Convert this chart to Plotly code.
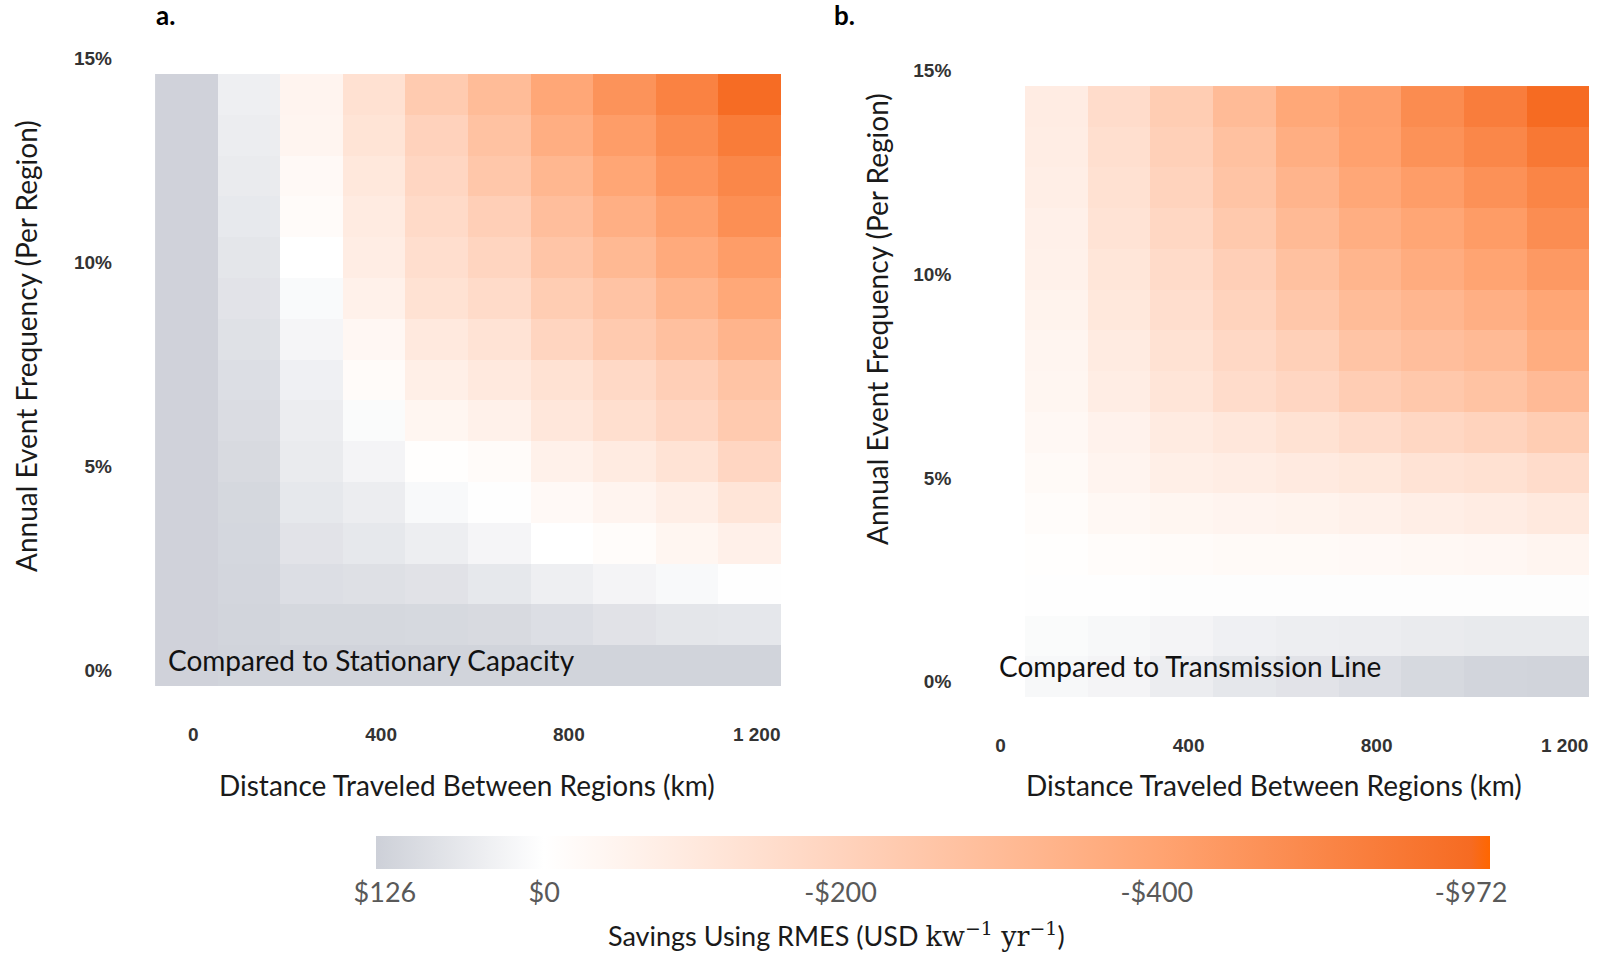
import numpy as np
import plotly.graph_objects as go

W, H = 1605, 953

distance_km = [0, 133, 267, 400, 533, 667, 800, 933, 1067, 1200]
frequency_pct = [0, 1, 2, 3, 4, 5, 6, 7, 8, 9, 10, 11, 12, 13, 14]

# Savings (USD kw^-1 yr^-1); rows = frequency 0%..14%, cols = distance
savings_stationary = [
    [126, 122, 122, 122, 122, 122, 122, 122, 122, 122],
    [126, 120, 111, 111, 108, 105, 93, 81, 72, 69],
    [126, 117, 93, 87, 81, 66, 45, 30, 18, 2],
    [126, 114, 78, 66, 48, 27, 0, -14, -41, -68],
    [126, 111, 66, 51, 18, 3, -27, -50, -77, -118],
    [126, 105, 57, 30, -5, -18, -64, -91, -127, -186],
    [126, 99, 51, 12, -41, -64, -109, -145, -186, -238],
    [126, 93, 42, -18, -73, -100, -132, -173, -217, -264],
    [126, 84, 27, -36, -100, -127, -191, -238, -281, -332],
    [126, 78, 15, -64, -132, -164, -226, -268, -328, -383],
    [126, 72, 0, -82, -150, -191, -260, -311, -374, -474],
    [126, 63, -18, -91, -168, -217, -289, -353, -437, -612],
    [126, 57, -27, -105, -186, -251, -319, -391, -557, -695],
    [126, 51, -45, -123, -204, -272, -357, -474, -640, -806],
    [126, 45, -50, -136, -234, -298, -387, -575, -741, -960],
]

savings_transmission = [
    [None, 21, 30, 51, 69, 78, 93, 108, 120, 123],
    [None, 12, 21, 30, 42, 48, 51, 57, 60, 60],
    [None, 2, 2, 6, 6, 6, 6, 6, 6, 6],
    [None, -5, -14, -18, -23, -23, -27, -32, -36, -45],
    [None, -14, -32, -41, -50, -55, -64, -77, -86, -100],
    [None, -23, -50, -73, -82, -95, -105, -127, -136, -159],
    [None, -32, -59, -91, -109, -132, -159, -182, -200, -226],
    [None, -41, -82, -118, -159, -186, -225, -247, -270, -305],
    [None, -45, -91, -132, -177, -213, -264, -289, -306, -362],
    [None, -55, -105, -150, -200, -251, -298, -323, -353, -391],
    [None, -64, -114, -164, -217, -277, -328, -366, -400, -510],
    [None, -68, -127, -182, -243, -306, -357, -391, -483, -630],
    [None, -77, -136, -200, -264, -332, -387, -474, -594, -714],
    [None, -82, -145, -213, -277, -357, -428, -584, -695, -843],
    [None, -86, -159, -226, -302, -383, -446, -640, -787, -972],
]

# Non-linear colour-bar scale (USD -> bar position)
scale_usd = [-972, -400, -200, 0, 126]
scale_pos = [0.983, 0.701, 0.417, 0.151, 0.008]
cbar_labels = ["-$972", "-$400", "-$200", "$0", "$126"]


def to_pos(rows):
    out = []
    for r in rows:
        out.append([None if v is None else float(np.interp(v, scale_usd, scale_pos)) for v in r])
    return out


FONT = "Lato, 'Open Sans', sans-serif"
TICKFONT = dict(family="'Liberation Sans', Arial, sans-serif", size=19, color="#333333",
                weight="bold")

fig = go.Figure()
fig.add_trace(go.Heatmap(x=distance_km, y=frequency_pct, z=to_pos(savings_stationary),
                         coloraxis="coloraxis", xaxis="x", yaxis="y", hoverongaps=False))
fig.add_trace(go.Heatmap(x=distance_km, y=frequency_pct, z=to_pos(savings_transmission),
                         coloraxis="coloraxis", xaxis="x2", yaxis="y2", hoverongaps=False))


def px_x(v):
    return v / W


def px_y(v):
    return 1 - v / H


xaxis_common = dict(range=[-66.67, 1266.67], tickvals=[0, 400, 800, 1200],
                    ticktext=["0", "400", "800", "1 200"], showgrid=False, zeroline=False,
                    showline=False, ticks="", tickfont=TICKFONT, ticklabelstandoff=35,
                    ticklabelshift=7)
yaxis_common = dict(range=[-0.5, 15.5], tickvals=[0, 5, 10, 15],
                    ticktext=["0%", "5%", "10%", "15%"], showgrid=False, zeroline=False,
                    showline=False, ticks="", tickfont=TICKFONT, ticklabelshift=5)

fig.update_layout(
    width=W, height=H,
    margin=dict(l=0, r=0, t=0, b=0),
    paper_bgcolor="white", plot_bgcolor="white",
    xaxis=dict(domain=[px_x(155), px_x(781)], anchor="y", **xaxis_common),
    yaxis=dict(domain=[px_y(686), px_y(33.2)], anchor="x", ticklabelstandoff=42, **yaxis_common),
    xaxis2=dict(domain=[px_x(962.3), px_x(1589)], anchor="y2", **xaxis_common),
    yaxis2=dict(domain=[px_y(697), px_y(45.3)], anchor="x2", ticklabelstandoff=10, **yaxis_common),
    coloraxis=dict(
        cmin=0, cmax=1,
        colorscale=[[0.0, "#cdd0d8"], [0.151, "#ffffff"], [0.417, "#ffd3bd"],
                    [0.701, "#ffa472"], [0.983, "#f66b22"], [1.0, "#ff6600"]],
        colorbar=dict(
            orientation="h", thickness=33, thicknessmode="pixels",
            len=1114, lenmode="pixels",
            x=933 / W, xanchor="center", y=1 - 836 / H, yanchor="top",
            xpad=0, ypad=0, outlinewidth=0, ticks="",
            tickvals=scale_pos, ticktext=cbar_labels,
            tickfont=dict(family=FONT, size=27, color="#595959"),
        ),
    ),
    showlegend=False,
)

ann = [
    dict(text="<b>a.</b>", x=px_x(165), y=px_y(15), font=dict(family=FONT, size=26, color="#000")),
    dict(text="<b>b.</b>", x=px_x(845), y=px_y(15), font=dict(family=FONT, size=26, color="#000")),
    dict(text="Annual Event Frequency (Per Region)", x=px_x(26), y=px_y(346), textangle=-90,
         font=dict(family=FONT, size=28, color="#1a1a1a")),
    dict(text="Annual Event Frequency (Per Region)", x=px_x(877), y=px_y(319), textangle=-90,
         font=dict(family=FONT, size=28, color="#1a1a1a")),
    dict(text="Distance Traveled Between Regions (km)", x=px_x(467), y=px_y(785),
         font=dict(family=FONT, size=28, color="#1a1a1a")),
    dict(text="Distance Traveled Between Regions (km)", x=px_x(1274), y=px_y(785),
         font=dict(family=FONT, size=28, color="#1a1a1a")),
    dict(text="Savings Using RMES (USD <span style='font-family:\"DejaVu Serif\",serif'>kw<sup>−1</sup> yr<sup>−1</sup></span>)",
         x=px_x(836), y=px_y(934), font=dict(family=FONT, size=27, color="#1a1a1a")),
]
for a in ann:
    a.update(xref="paper", yref="paper", xanchor="center", yanchor="middle", showarrow=False)

ann += [
    dict(text="Compared to Stationary Capacity", x=px_x(166), y=px_y(660), xanchor="left",
         yanchor="middle", xref="paper", yref="paper", showarrow=False,
         font=dict(family=FONT, size=28, color="#111111")),
    dict(text="Compared to Transmission Line", x=px_x(997), y=px_y(666), xanchor="left",
         yanchor="middle", xref="paper", yref="paper", showarrow=False,
         font=dict(family=FONT, size=28, color="#111111")),
]
fig.update_layout(annotations=ann)

fig.write_html("out.html")
